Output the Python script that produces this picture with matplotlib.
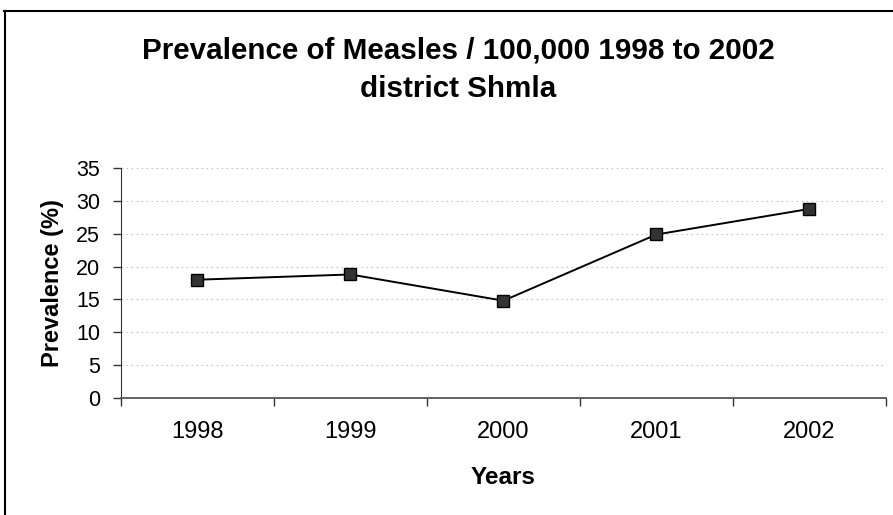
import matplotlib.pyplot as plt
from matplotlib.lines import Line2D

years = ['1998', '1999', '2000', '2001', '2002']
prevalence = [18.0, 18.8, 14.8, 24.9, 28.8]
yticks = [0, 5, 10, 15, 20, 25, 30, 35]

plt.rcParams['font.family'] = ['Liberation Sans', 'DejaVu Sans']

fig = plt.figure(figsize=(8.93, 5.15), dpi=100)
ax = fig.add_axes([0.1355, 0.2278, 0.8565, 0.4454])

x = range(len(years))
ax.plot(x, prevalence, color='black', linewidth=1.4, marker='s', markersize=8,
        markerfacecolor='#333333', markeredgecolor='black', zorder=3)

ax.set_xlim(-0.5, len(years) - 0.5)
ax.set_ylim(0, 35)
ax.set_yticks(yticks)
ax.set_yticklabels([str(v) for v in yticks], fontsize=15.5)
ax.set_xticks([i - 0.5 for i in range(len(years) + 1)])
ax.set_xticklabels([])
ax.set_xticks(list(x), minor=True)
ax.set_xticklabels(years, minor=True, fontsize=17)
ax.tick_params(axis='x', which='minor', length=0, pad=17)
ax.tick_params(axis='x', which='major', length=6, width=1, direction='out', color='#333333')
ax.tick_params(axis='y', length=6, width=1, direction='out', color='#333333', pad=9)

ax.grid(axis='y', color='#c4c4c4', linestyle=(0, (1.5, 3)), linewidth=0.8)
ax.set_axisbelow(True)
for s in ['top', 'right']:
    ax.spines[s].set_visible(False)
ax.spines['left'].set_color('#333333')
ax.spines['bottom'].set_color('#555555')
ax.spines['bottom'].set_linewidth(1.3)

ax.set_xlabel('Years', fontsize=17.5, fontweight='bold', labelpad=16)
ax.set_ylabel('Prevalence (%)', fontsize=17, fontweight='bold', labelpad=9)

fig.text(0.513, 0.865, 'Prevalence of Measles / 100,000 1998 to 2002\ndistrict Shmla',
         ha='center', va='center', fontsize=21.3, fontweight='bold', linespacing=1.5)

# chart frame (cropped scan: only top and left edges visible)
fig.add_artist(Line2D([0.005, 1.0], [0.978, 0.978], color='black', linewidth=1.5))
fig.add_artist(Line2D([0.006, 0.006], [0.0, 0.978], color='black', linewidth=1.5))

fig.savefig('out.png', dpi=100)
